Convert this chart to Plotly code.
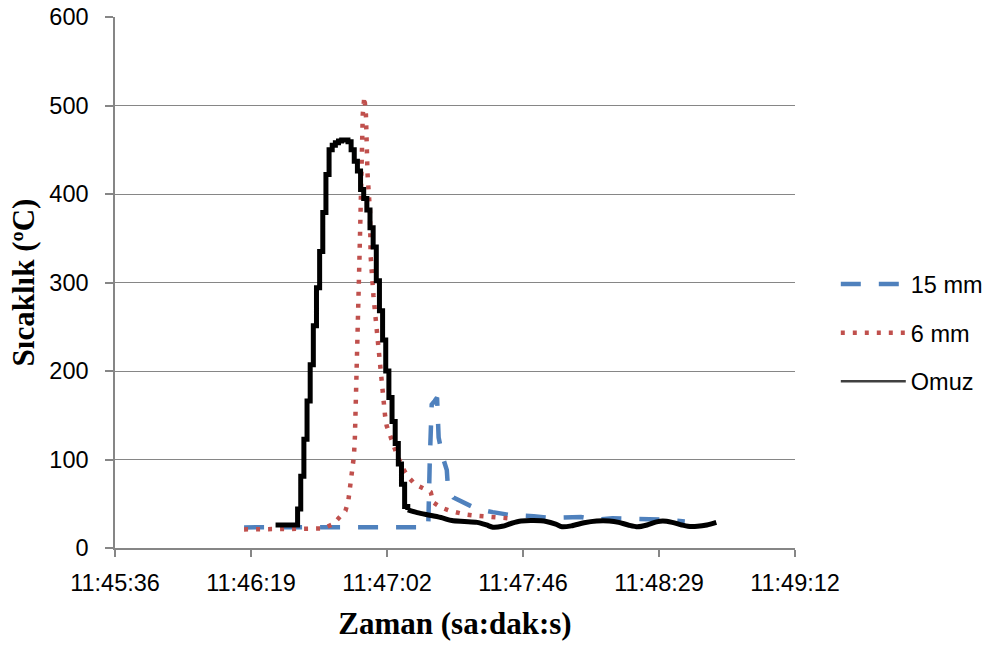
import plotly.graph_objects as go

# ---------------- data ----------------
tick_labels = ["11:45:36", "11:46:19", "11:47:02", "11:47:46", "11:48:29", "11:49:12"]

mm15_time = ["11:46:17", "11:46:46", "11:47:15.5", "11:47:16.0", "11:47:16.2", "11:47:16.6",
             "11:47:17.5", "11:47:18.3", "11:47:18.8", "11:47:20.0", "11:47:21.4", "11:47:21.8",
             "11:47:23.5", "11:47:26.5", "11:47:31", "11:47:36", "11:47:42", "11:47:49",
             "11:47:54", "11:48:04", "11:48:09", "11:48:14", "11:48:20", "11:48:30", "11:48:37"]
mm15_temp = [23.3, 23.3, 23.5, 100, 150, 162,
             166, 170, 125, 104, 88, 66,
             57, 52, 44, 40.5, 37, 36,
             34, 35, 32, 33.5, 33, 32, 30]

mm6_time = ["11:46:17", "11:46:26", "11:46:36", "11:46:42", "11:46:45.3", "11:46:47.5",
            "11:46:49.2", "11:46:50.1", "11:46:50.7", "11:46:51.2", "11:46:51.9", "11:46:52.2",
            "11:46:52.6", "11:46:53.1", "11:46:53.6", "11:46:54.0", "11:46:54.3", "11:46:54.7",
            "11:46:55.2", "11:46:55.7", "11:46:55.9", "11:46:56.2", "11:46:57.0", "11:46:57.2",
            "11:46:58.1", "11:46:58.6", "11:46:59.9", "11:47:00.2", "11:47:00.7", "11:47:01.2",
            "11:47:01.8", "11:47:02.3", "11:47:03.4", "11:47:04.4", "11:47:05.5", "11:47:07.6",
            "11:47:09.2", "11:47:11.3", "11:47:13.9", "11:47:16.3", "11:47:17.1", "11:47:19.4",
            "11:47:22.4", "11:47:27.2", "11:47:31", "11:47:34.3", "11:47:38.3", "11:47:43.1"]
mm6_temp = [21, 21, 21, 22, 27, 36,
            42, 53, 69, 85, 104, 125,
            170, 262, 320, 380, 440, 490,
            510, 490, 465, 424, 380, 330,
            285, 266, 215, 200, 187, 162,
            149, 138, 126, 115, 106, 89,
            80, 72, 67.7, 63, 51.5, 46,
            42, 38, 36.4, 35.7, 34.5, 33]

omuz_time = ["11:46:27", "11:46:28", "11:46:29", "11:46:30", "11:46:31", "11:46:32", "11:46:33",
             "11:46:34", "11:46:35", "11:46:36", "11:46:37", "11:46:38", "11:46:39", "11:46:40",
             "11:46:41", "11:46:42", "11:46:43", "11:46:44", "11:46:45", "11:46:46", "11:46:47",
             "11:46:48", "11:46:49", "11:46:50", "11:46:51", "11:46:52", "11:46:53", "11:46:54",
             "11:46:55", "11:46:56", "11:46:57", "11:46:58", "11:46:59", "11:47:00", "11:47:01",
             "11:47:02", "11:47:03", "11:47:04", "11:47:05", "11:47:06", "11:47:07", "11:47:08",
             "11:47:09",
             "11:47:12", "11:47:16", "11:47:20", "11:47:23", "11:47:27", "11:47:31", "11:47:34",
             "11:47:36", "11:47:39", "11:47:42", "11:47:45", "11:47:49", "11:47:53", "11:47:56",
             "11:47:58", "11:48:01", "11:48:05", "11:48:09", "11:48:13", "11:48:16", "11:48:19",
             "11:48:22", "11:48:25", "11:48:28", "11:48:30", "11:48:33", "11:48:36", "11:48:38",
             "11:48:41", "11:48:44", "11:48:47"]
omuz_temp = [26, 26, 26, 26, 26, 26, 26,
             44, 81, 123, 166, 207, 251, 294,
             335, 379, 422, 450, 455, 458, 460,
             461, 461, 459, 450, 437, 426, 405,
             395, 382, 362, 340, 302, 268, 235,
             200, 170, 143, 118, 95, 72, 47,
             43,
             40, 37, 34, 31, 30, 29, 26,
             23.5, 24.5, 28, 30.5, 31, 30, 27,
             24, 25, 28.5, 30.5, 30.5, 29, 26,
             24, 26, 29.5, 30.5, 29, 26, 24.5,
             24.5, 26, 29]
omuz_step_end = "11:47:09"   # stepped logger part ends here, smooth tail afterwards


def to_sec(t):
    h, m, s = t.split(":")
    return int(h) * 3600 + int(m) * 60 + float(s)


tick_vals = [to_sec(tick_labels[0]) + i * 43.2 for i in range(len(tick_labels))]

BLUE = "#4F81BD"
RED = "#C0504D"
GRID = "#868686"
SANS = "Liberation Sans"
SERIF = "Liberation Serif"

fig = go.Figure()

fig.add_trace(go.Scatter(
    x=[to_sec(t) for t in mm15_time], y=mm15_temp, name="15 mm", mode="lines",
    line=dict(color=BLUE, width=4.5, dash="20px,18px"), legendgroup="a"))

fig.add_trace(go.Scatter(
    x=[to_sec(t) for t in mm6_time], y=mm6_temp, name="6 mm", mode="lines",
    line=dict(color=RED, width=4.5, dash="4px,8px"), legendgroup="b"))

split = omuz_time.index(omuz_step_end)
ox = [to_sec(t) for t in omuz_time]
fig.add_trace(go.Scatter(
    x=ox[:split + 1], y=omuz_temp[:split + 1], name="Omuz", mode="lines",
    line=dict(color="black", width=5, shape="hv"), showlegend=False, legendgroup="c"))
fig.add_trace(go.Scatter(
    x=ox[split:], y=omuz_temp[split:], name="Omuz", mode="lines",
    line=dict(color="black", width=5, shape="spline", smoothing=0.8),
    showlegend=False, legendgroup="c"))
# legend entry (thin line like the reference legend)
fig.add_trace(go.Scatter(
    x=[None], y=[None], name="Omuz", mode="lines",
    line=dict(color="#404040", width=2.5), legendgroup="c"))

fig.update_layout(
    width=995, height=648, autosize=False,
    margin=dict(l=115, r=200, t=17, b=100),
    paper_bgcolor="white", plot_bgcolor="white",
    font=dict(family=SANS, size=23.5, color="black"),
    showlegend=True,
    legend=dict(xref="container", yref="container", x=0.840, y=0.5952,
                xanchor="left", yanchor="top",
                font=dict(family=SANS, size=23.5, color="black"),
                itemwidth=65, traceorder="grouped", tracegroupgap=15,
                bgcolor="rgba(0,0,0,0)"),
    xaxis=dict(range=[tick_vals[0], tick_vals[-1]], tickvals=tick_vals, ticktext=tick_labels,
               automargin=False,
               showgrid=False, zeroline=False, showline=True, linecolor=GRID, linewidth=1.5,
               ticks="outside", ticklen=7, tickwidth=1.5, tickcolor=GRID,
               ticklabelstandoff=6,
               tickfont=dict(family=SANS, size=23.5, color="black"),
               title=dict(text="Zaman (sa:dak:s)", standoff=17,
                          font=dict(family=SERIF, size=31, color="black", weight="bold"))),
    yaxis=dict(range=[0, 600], dtick=100, tick0=0, automargin=False,
               showgrid=True, gridcolor=GRID, gridwidth=1.3, zeroline=False,
               showline=True, linecolor=GRID, linewidth=1.5,
               ticks="outside", ticklen=8, tickwidth=1.5, tickcolor=GRID,
               ticklabelstandoff=12,
               tickfont=dict(family=SANS, size=23.5, color="black"),
               title=dict(text="Sıcaklık (ºC)", standoff=5,
                          font=dict(family=SERIF, size=31, color="black", weight="bold"))),
)

fig.write_html("out.html", config={"displayModeBar": False, "responsive": False})

# remove the browser's default page margin so the figure starts at the window corner
with open("out.html", encoding="utf-8") as f:
    html = f.read()
html = html.replace("<head>", "<head><style>html,body{margin:0;padding:0;overflow:hidden;}</style>", 1)
with open("out.html", "w", encoding="utf-8") as f:
    f.write(html)
